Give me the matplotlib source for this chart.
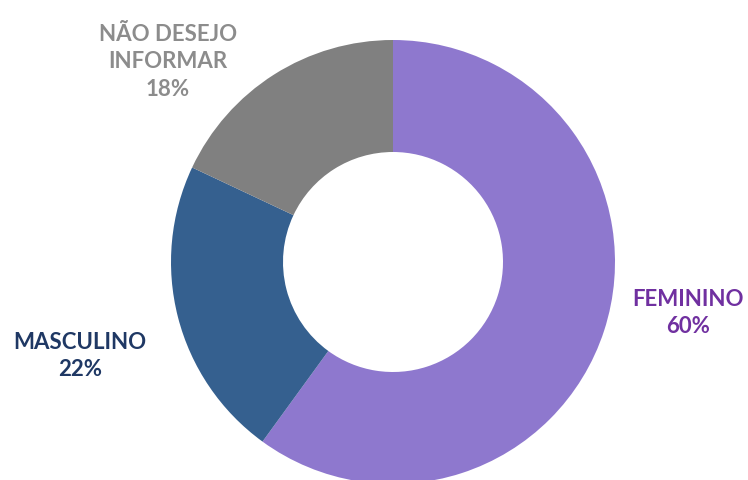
import matplotlib.pyplot as plt

labels = ['FEMININO', 'MASCULINO', 'NÃO DESEJO\nINFORMAR']
values = [60, 22, 18]
colors = ['#8E78CE', '#35608F', '#808080']
label_colors = ['#7030A0', '#1F3864', '#8C8C8C']

fig = plt.figure(figsize=(7.48, 4.8), dpi=100)
ax = fig.add_axes([0, 0, 1, 1])

ax.pie(values, colors=colors, startangle=90, counterclock=False,
       center=(393, 218), radius=222, frame=True,
       wedgeprops=dict(width=112, linewidth=0))
ax.set_xlim(0, 748)
ax.set_ylim(0, 480)
ax.set_aspect('equal')
ax.axis('off')

# label positions (pixel coords, y measured from bottom)
label_pos = [(688, 167), (80, 124), (168, 418)]
for lab, v, c, (x, y) in zip(labels, values, label_colors, label_pos):
    ax.text(x, y, f'{lab}\n{v}%', color=c, ha='center', va='center',
            fontsize=16, fontweight='bold', family='Lato', linespacing=1.4)

fig.savefig('out.png', dpi=100)
